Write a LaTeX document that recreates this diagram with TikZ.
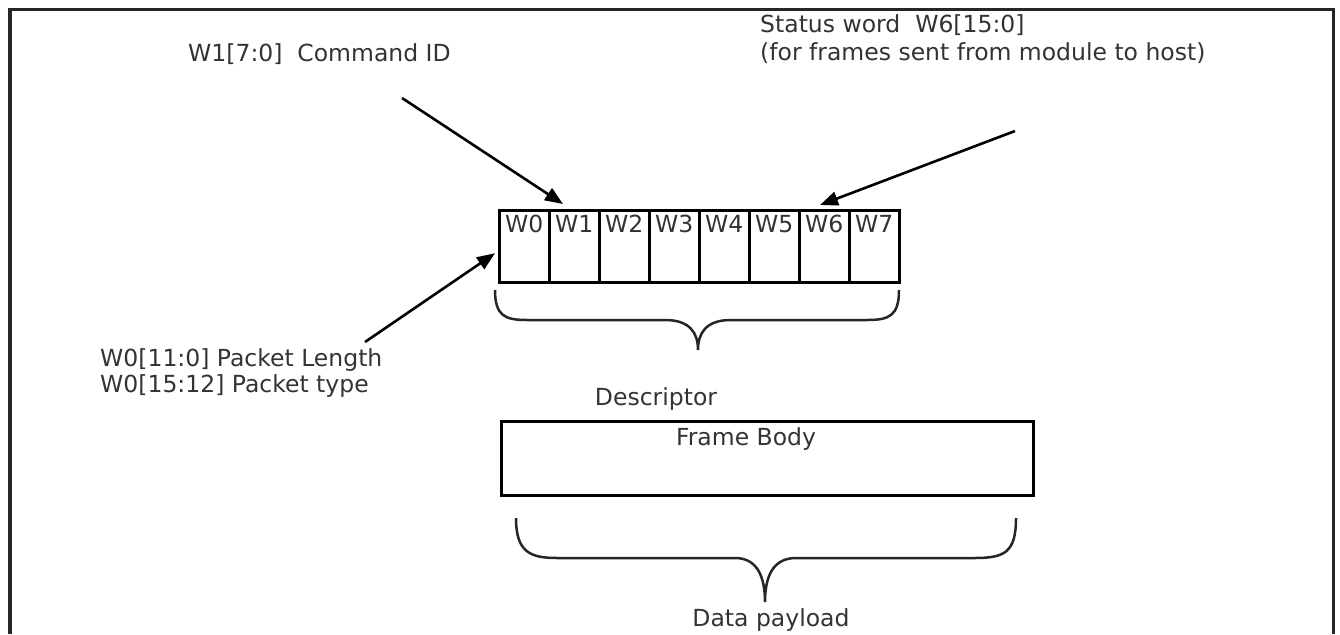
\documentclass[tikz,border=0pt]{standalone}
\usepackage{fontspec}
\setmainfont{DejaVu Sans}
\usetikzlibrary{arrows.meta}
\begin{document}
\begin{tikzpicture}[x=1pt,y=-1pt,
  txt/.style={font=\fontsize{23.5}{27}\selectfont, text=black!80, inner sep=0pt},
  cell/.style={draw=black, line width=2.5pt, minimum width=50pt, minimum height=72pt, inner sep=0pt, anchor=north west},
  arr/.style={line width=2.6pt, -{Triangle[length=18pt,width=14pt]}},
  bracepath/.style={line width=2.5pt, black!85},
]
\useasboundingbox (0,0) rectangle (1340,634);
% outer frame
\draw[line width=3.2pt, black!85] (10,634) -- (10,9.5) -- (1333.5,9.5) -- (1333.5,634);

% descriptor cells
\foreach \i in {0,...,7}{
  \node[cell] (w\i) at ({498+50*\i},209) {};
  \node[txt, anchor=base] (t\i) at ([yshift=-23pt]w\i.north) {W\i};
}

% frame body
\node[draw=black, line width=2.8pt, minimum width=532pt, minimum height=74pt, anchor=north west, inner sep=0pt] (fb) at (500,420) {};
\node[txt, anchor=base] (fbt) at (746,445) {Frame Body};

% labels
\node[txt, anchor=base west] (cmd) at (188,62) {W1[7:0]\ \ Command ID};
\node[txt, anchor=base west] (st1) at (760,33) {Status word\ \ W6[15:0]};
\node[txt, anchor=base west] (st2) at (760,60) {(for frames sent from module to host)};
\node[txt, anchor=base west] (pl1) at (100,366) {W0[11:0] Packet Length};
\node[txt, anchor=base west] (pl2) at (100,392) {W0[15:12] Packet type};
\node[txt, anchor=base] (desc) at (656,405) {Descriptor};
\node[txt, anchor=base] (dp) at (771,626) {Data payload};

% arrows
\coordinate (a1) at (402,98);
\coordinate (a2) at (1015,131);
\coordinate (a3) at (365,342);
\draw[arr] (a1) -- ([xshift=15pt,yshift=5pt]w1.north west);
\draw[arr] (a2) -- ([xshift=22pt,yshift=4pt]w6.north west);
\draw[arr] (a3) -- ([xshift=-3pt,yshift=-7pt]w0.west);

% descriptor brace
\draw[bracepath] (495,290) .. controls (495,316) and (505,320) .. (527,320)
  -- (665,320) .. controls (690,320) and (698,333) .. (698,350)
  .. controls (698,333) and (706,320) .. (731,320)
  -- (867,320) .. controls (889,320) and (899,316) .. (899,290);

% data payload brace
\draw[bracepath] (516,518) .. controls (516,552) and (530,558) .. (557,558)
  -- (735,558) .. controls (758,558) and (765,578) .. (765,602)
  .. controls (765,578) and (772,558) .. (796,558)
  -- (975,558) .. controls (1005,558) and (1016,552) .. (1016,518);
\end{tikzpicture}
\end{document}
